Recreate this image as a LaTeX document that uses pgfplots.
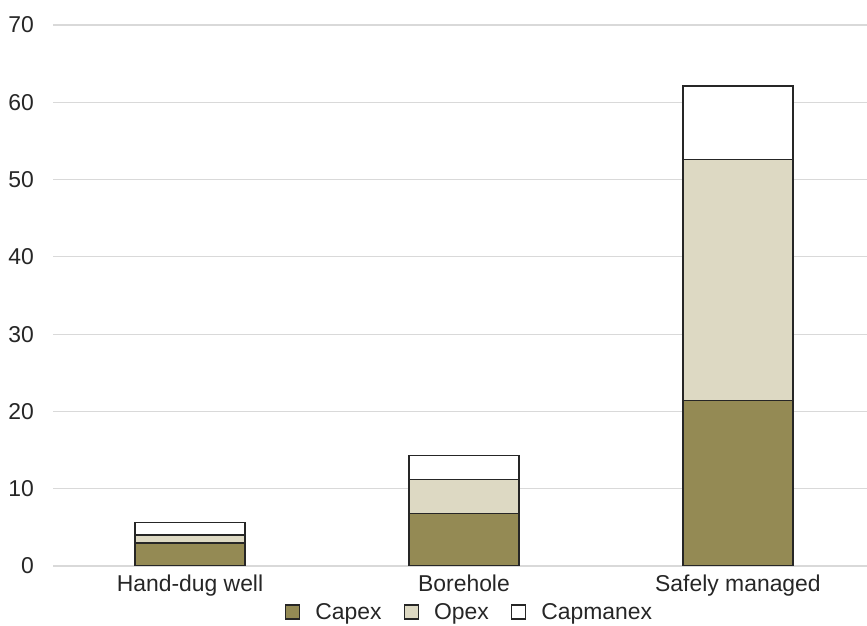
\documentclass[border=0pt]{standalone}
\usepackage{pgfplots}
\pgfplotsset{compat=1.18}
\usepackage{fontspec}
\setmainfont{Liberation Sans}
\definecolor{capex}{HTML}{948A54}
\definecolor{opex}{HTML}{DDD9C3}
\definecolor{edge}{HTML}{262626}
\definecolor{gridc}{HTML}{D9D9D9}
\definecolor{txt}{HTML}{262626}

\pgfplotstableread{
x capex opex capmanex
0 3.0  1.0  1.6
1 6.8  4.4  3.1
2 21.4 31.2 9.5
}\costs

\begin{document}
\begin{tikzpicture}
\begin{axis}[
  scale only axis, width=814bp, height=541bp,
  ybar stacked, bar width=0.4,
  xmin=-0.5, xmax=2.471, ymin=0, ymax=70,
  ytick={0,10,...,70},
  xtick={0,1,2},
  xticklabels={Hand-dug well, Borehole, Safely managed},
  axis line style={draw=none},
  major tick length=0pt,
  ymajorgrids, grid style={gridc, line width=1.2bp},
  tick label style={font=\fontsize{23}{27}\selectfont, text=txt},
  /pgf/number format/assume math mode=true,
  yticklabel style={inner sep=0pt, xshift=-19bp},
  xticklabel style={inner sep=0pt, yshift=-9bp},
  every axis plot/.append style={draw=edge, line width=1.5bp},
  legend columns=-1,
  legend style={draw=none, fill=none, at={(0.5104,0)}, anchor=center,
    yshift=-46bp, inner sep=0pt,
    nodes={inner sep=0pt, font=\fontsize{23}{27}\selectfont, text=txt},
    /tikz/every odd column/.append style={column sep=15bp},
    /tikz/every even column/.append style={column sep=22bp}},
  legend image code/.code={\draw[#1, line width=1.5bp] (0bp,-7bp) rectangle (14bp,7bp);},
]
\addplot[fill=capex] table[x=x, y=capex] {\costs};
\addplot[fill=opex] table[x=x, y=opex] {\costs};
\addplot[fill=white] table[x=x, y=capmanex] {\costs};
\legend{Capex, Opex, Capmanex}
\coordinate (bl) at (rel axis cs:0,0);
\coordinate (tr) at (rel axis cs:1,1);
\end{axis}
\pgfresetboundingbox
\path ([shift={(-53bp,-60bp)}]bl) rectangle ([shift={(0bp,25bp)}]tr);
\end{tikzpicture}
\end{document}
